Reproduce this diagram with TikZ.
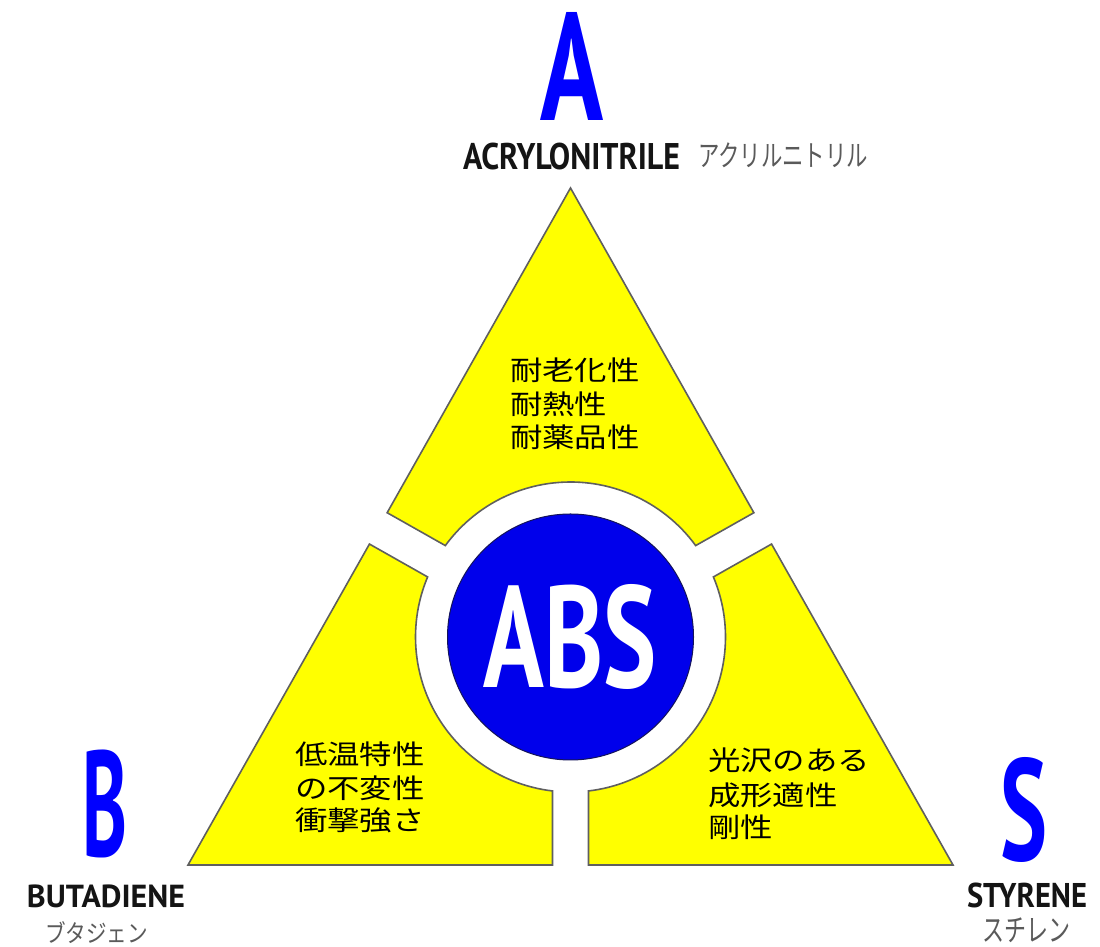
\documentclass[tikz,border=0pt]{standalone}
\usepackage{fontspec}
\usepackage{graphicx}
\newfontfamily\jpfont{Noto Sans CJK JP}
\newfontfamily\jpwide{Noto Sans CJK JP}[FakeStretch=1.2]
\newfontfamily\latfont{PT Sans}
\definecolor{pieceyellow}{RGB}{255,255,0}
\definecolor{pieceedge}{RGB}{95,95,95}
\definecolor{letterblue}{RGB}{0,0,255}
\definecolor{coreblue}{RGB}{0,0,235}
\definecolor{coreedge}{RGB}{20,20,90}
\definecolor{kanagray}{RGB}{90,90,90}
\definecolor{labelblack}{RGB}{20,20,20}
\newcommand{\fitto}[3]{\resizebox*{#1}{#2}{#3}}
\tikzset{
  piece/.style={fill=pieceyellow, draw=pieceedge, line width=1.6pt, line join=miter},
  txt/.style={inner sep=0pt, outer sep=0pt, anchor=north west},
  bigletter/.style={txt, text=letterblue, font=\latfont\bfseries},
  compound/.style={txt, text=labelblack, font=\latfont\bfseries},
  kana/.style={txt, text=kanagray, font=\jpfont},
  prop/.style={txt, text=black, font=\jpwide\fontsize{27}{27}\selectfont},
  core/.style={circle, inner sep=0pt, minimum size=246pt, fill=coreblue, draw=coreedge, line width=1pt, text=white, font=\latfont\bfseries}
}
\begin{document}
\begin{tikzpicture}[x=1pt,y=1pt]
\path[use as bounding box, fill=white] (0,0) rectangle (1100,947);
\begin{scope}[shift={(570.5,310)}]
  % top piece (acrylonitrile)
  \draw[piece] (145.87:221.5) -- (0,449) -- (34.13:221.5) -- (36.14:155)
     arc[start angle=36.14, end angle=143.86, radius=155pt] -- cycle;
  % bottom-left piece (butadiene)
  \draw[piece] (155.19:221.5) -- (-382.5,-228) -- (-18,-228) -- (-18,-153.95)
     arc[start angle=263.33, end angle=157.20, radius=155pt] -- cycle;
  % bottom-right piece (styrene)
  \draw[piece] (24.81:221.5) -- (382.5,-228) -- (18,-228) -- (18,-153.95)
     arc[start angle=-83.33, end angle=22.80, radius=155pt] -- cycle;
\end{scope}
\node[core] (abs) at (570.5,310) {\fitto{173pt}{105pt}{ABS}};

\node[bigletter] (bigA) at (540,935) {\fitto{63pt}{108pt}{A}};
\node[compound] (acr) at (463,804) {\fitto{217pt}{27pt}{ACRYLONITRILE}};
\node[kana] (acrkana) at (698,804) {\fitto{170pt}{25pt}{アクリルニトリル}};

\node[bigletter] (bigB) at (82,197) {\fitto{45pt}{108pt}{B}};
\node[compound] (but) at (27,62) {\fitto{158pt}{23pt}{BUTADIENE}};
\node[kana] (butkana) at (45,25) {\fitto{103pt}{22pt}{ブタジェン}};

\node[bigletter] (bigS) at (1000,190) {\fitto{47pt}{105pt}{S}};
\node[compound] (sty) at (967,64) {\fitto{120pt}{25pt}{STYRENE}};
\node[kana] (stykana) at (982,29) {\fitto{88pt}{25pt}{スチレン}};

\node[prop] (pa1) at (510,589) {耐老化性};
\node[prop] (pa2) at (510,555.5) {耐熱性};
\node[prop] (pa3) at (510,522) {耐薬品性};

\node[prop] (pb1) at (295,205) {低温特性};
\node[prop] (pb2) at (295,171) {の不変性};
\node[prop] (pb3) at (295,139) {衝撃強さ};

\node[prop] (ps1) at (708,199) {光沢のある};
\node[prop] (ps2) at (708,164) {成形適性};
\node[prop] (ps3) at (708,132) {剛性};
\end{tikzpicture}
\end{document}
